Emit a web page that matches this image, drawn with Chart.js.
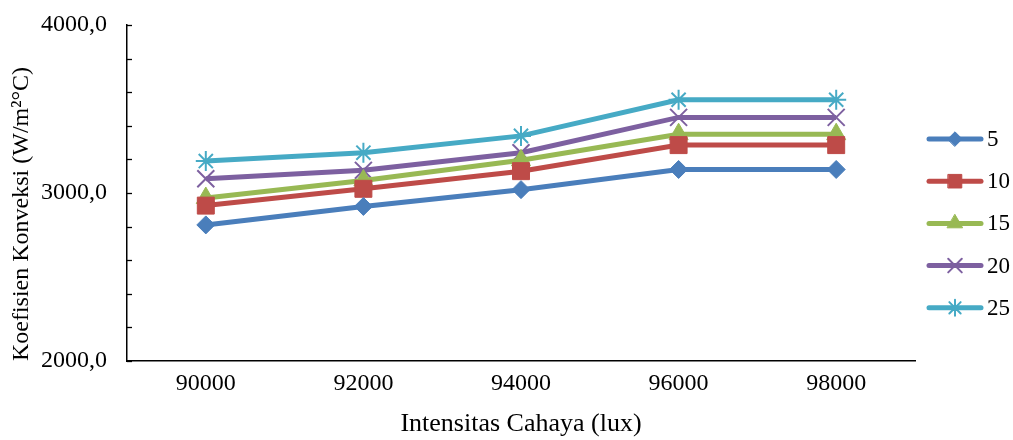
<!DOCTYPE html>
<html>
<head>
<meta charset="utf-8">
<script src="https://cdn.jsdelivr.net/npm/chart.js@4"></script>
<style>
  html, body { margin: 0; padding: 0; background: #fff; }
  #wrap { width: 1013px; height: 440px; }
</style>
</head>
<body>
<div id="wrap"><canvas id="chart"></canvas></div>
<script>
const lux = ['90000', '92000', '94000', '96000', '98000'];
const seriesNames = ['5', '10', '15', '20', '25'];
const s5  = [2810, 2920, 3020, 3140, 3140];
const s10 = [2925, 3025, 3130, 3285, 3285];
const s15 = [2970, 3075, 3195, 3350, 3350];
const s20 = [3085, 3135, 3240, 3450, 3450];
const s25 = [3190, 3240, 3340, 3555, 3555];
const yTitle = 'Koefisien Konveksi (W/m²°C)';

const colors = ['#4A7EBB', '#BE4B48', '#98B954', '#7D60A0', '#46AAC5'];
const markers = ['rectRot', 'rect', 'triangle', 'crossRot', 'star'];
const markerSize = [9, 12, 11, 12, 10];
const allData = [s5, s10, s15, s20, s25];

const FONT = '"Liberation Serif", "Times New Roman", serif';

// inward minor ticks on the y axis + y title placed a bit lower like the original
const yAxisExtras = {
  id: 'yAxisExtras',
  afterDraw(chart) {
    const ctx = chart.ctx;
    const y = chart.scales.y;
    ctx.save();
    ctx.strokeStyle = '#000';
    ctx.lineWidth = 1.3;
    y.ticks.forEach(t => {
      const py = Math.round(y.getPixelForValue(t.value)) + 0.5;
      ctx.beginPath();
      ctx.moveTo(y.right, py);
      ctx.lineTo(y.right + 5, py);
      ctx.stroke();
    });
    ctx.translate(22, 214);
    ctx.rotate(-Math.PI / 2);
    ctx.fillStyle = '#000';
    ctx.font = '24px ' + FONT;
    ctx.textAlign = 'center';
    ctx.textBaseline = 'middle';
    ctx.fillText(yTitle, 0, 0);
    ctx.restore();
  }
};

// legend drawn as line + marker like the original
const sideLegend = {
  id: 'sideLegend',
  afterDraw(chart) {
    const ctx = chart.ctx;
    ctx.save();
    chart.data.datasets.forEach((ds, i) => {
      const y = 139 + i * 42.2;
      ctx.strokeStyle = ds.borderColor;
      ctx.lineWidth = 5;
      ctx.lineCap = 'round';
      ctx.beginPath();
      ctx.moveTo(929, y);
      ctx.lineTo(981, y);
      ctx.stroke();
      ctx.fillStyle = ds.pointBackgroundColor;
      ctx.strokeStyle = ds.pointBorderColor;
      ctx.lineWidth = ds.pointBorderWidth;
      Chart.helpers.drawPoint(ctx, {
        pointStyle: ds.pointStyle, radius: ds.pointRadius * 0.8, rotation: 0, borderWidth: ds.pointBorderWidth
      }, 955, y);
      ctx.fillStyle = '#000';
      ctx.font = '23px ' + FONT;
      ctx.textBaseline = 'middle';
      ctx.fillText(ds.label, 987, y + 1);
    });
    ctx.restore();
  }
};

new Chart(document.getElementById('chart'), {
  type: 'line',
  data: {
    labels: lux,
    datasets: seriesNames.map((name, i) => ({
      label: name,
      data: allData[i],
      borderColor: colors[i],
      backgroundColor: colors[i],
      borderWidth: 5,
      pointStyle: markers[i],
      pointRadius: markerSize[i],
      pointBackgroundColor: colors[i],
      pointBorderColor: colors[i],
      pointBorderWidth: (i >= 3) ? 2 : 1,
      tension: 0
    }))
  },
  options: {
    responsive: true,
    maintainAspectRatio: false,
    animation: false,
    layout: { padding: { top: 25, right: 98, bottom: 0, left: 4 } },
    plugins: { legend: { display: false }, tooltip: { enabled: false } },
    scales: {
      x: {
        offset: true,
        afterFit: s => { s.height = 79; },
        grid: { display: false, drawTicks: false },
        border: { color: '#000', width: 1.5 },
        ticks: { color: '#000', font: { family: FONT, size: 24 }, padding: 8 },
        title: { display: true, text: 'Intensitas Cahaya (lux)', color: '#000',
                 font: { family: FONT, size: 26 }, padding: { top: 10, bottom: 0 } }
      },
      y: {
        min: 2000, max: 4000,
        afterFit: s => { s.width = 123; s.paddingTop = 0; s.paddingBottom = 0; },
        grid: { display: false, drawTicks: false },
        border: { color: '#000', width: 1.5 },
        ticks: {
          stepSize: 200, autoSkip: false, color: '#000', padding: 20,
          font: { family: FONT, size: 24 },
          callback: v => (v % 1000 === 0) ? v.toFixed(1).replace('.', ',') : ''
        },
        title: { display: false }
      }
    }
  },
  plugins: [yAxisExtras, sideLegend]
});
</script>
</body>
</html>
